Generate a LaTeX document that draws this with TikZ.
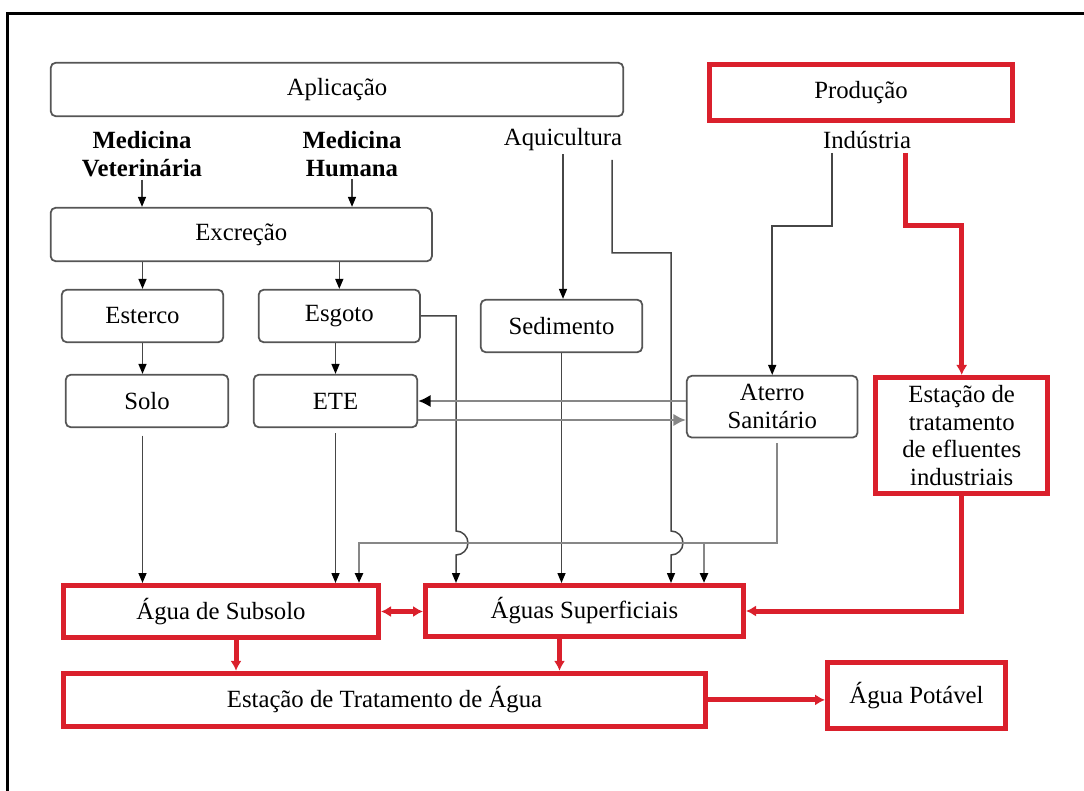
\documentclass[tikz,border=0pt]{standalone}
\usepackage{fontspec}
\setmainfont{Liberation Serif}
\usetikzlibrary{
  positioning,
  calc,
  arrows.meta}

\definecolor{boxcolor}{RGB}{85,85,85}
\definecolor{flowcolor}{RGB}{70,70,70}
\definecolor{pipecolor}{RGB}{135,135,135}
\definecolor{watercolor}{RGB}{218,32,44}
\definecolor{framecolor}{RGB}{0,0,0}

\tikzset{
  %% source : rounded box, a source or route of the residues
  source/.style={
    rectangle,
    rounded corners=2pt,
    draw=boxcolor,
    line width=0.7pt,
    inner sep=2pt,
    align=center
  },
  %% water : red box, a water compartment
  water/.style={
    rectangle,
    draw=watercolor,
    line width=2pt,
    inner sep=2pt,
    align=center
  },
  %% origin : plain label above a route
  origin/.style={
    inner sep=1pt,
    align=center
  },
  %% flow : thin dark arrow
  flow/.style={
    draw=flowcolor,
    line width=0.6pt,
    -{Triangle[length=4pt,width=3.2pt,color=black]}
  },
  %% pipe : grey line (landfill and collector)
  pipe/.style={
    draw=pipecolor,
    line width=1pt
  },
  %% redflow : thick red arrow
  redflow/.style={
    draw=watercolor,
    line width=2pt,
    -{Latex[length=4pt,width=4.5pt]}
  },
  %% frame : border of the figure
  frame/.style={framecolor, line width=0.9pt}
}

\begin{document}
\begin{tikzpicture}
  [x=0.4pt,
  y=-0.4pt,
  align=center]
  \fontsize{9.9}{11}\selectfont
  \useasboundingbox (0,0) rectangle (1084,791);

  %% frame
  \draw [frame] (7.5,791) -- (7.5,13.5) -- (1084,13.5);

  %% sources
  \node (aplic) [source, minimum width=229pt, minimum height=21.4pt]
    at (337,89.5) {Aplicação};
  \node (producao) [water, minimum width=121.2pt, minimum height=22.4pt]
    at (861,92.2) {Produção};

  \node (medvet) [origin, font=\bfseries] at (142,154) {%
    Medicina\\Veterinária};
  \node (medhum) [origin, font=\bfseries] at (352,154) {%
    Medicina\\Humana};
  \node (aquic) [origin] at (563,140) {Aquicultura};
  \node (indust) [origin] at (867,140) {Indústria};

  \node (excr) [source, minimum width=152.5pt, minimum height=21.4pt]
    at (241.3,234.5) {Excreção};

  \node (esterco) [source, minimum width=64.6pt, minimum height=21pt]
    at (142.5,316) {Esterco};
  \node (esgoto) [source, minimum width=64.5pt, minimum height=21pt]
    at (339.3,316) {Esgoto};
  \node (sedim) [source, minimum width=64.6pt, minimum height=21pt]
    at (561.5,326) {Sedimento};

  \node (solo) [source, minimum width=65pt, minimum height=21pt]
    at (147,401) {Solo};
  \node (ete) [source, minimum width=65.4pt, minimum height=21pt]
    at (335.5,401) {ETE};
  \node (aterro) [source, minimum width=68.3pt, minimum height=24.7pt]
    at (772.2,406.7) {Aterro\\Sanitário};
  \node (etei) [water, minimum width=68.7pt, minimum height=46.4pt]
    at (961.7,435.5) {%
    Estação de\\tratamento\\de efluentes\\industriais};

  %% water compartments
  \node (subsolo) [water, minimum width=126pt, minimum height=20.8pt]
    at (221,611.5) {Água de Subsolo};
  \node (superf) [water, minimum width=127.2pt, minimum height=20.4pt]
    at (584.5,611) {Águas Superficiais};
  \node (eta) [water, minimum width=256.8pt, minimum height=21.3pt]
    at (384.5,699.9) {Estação de Tratamento de Água};
  \node (potavel) [water, minimum width=71.2pt, minimum height=26.3pt]
    at (916.5,695.4) {Água Potável};

  %% junctions
  \coordinate (aqbranch) at (612,160);
  \coordinate (indblack) at (832,153);
  \coordinate (indred) at (905,153);
  \coordinate (hopesg) at (456,543);
  \coordinate (hopaq) at (671,543);
  \coordinate (collL) at (359,543);
  \coordinate (collS) at (704,543);
  \coordinate (collR) at (777,543);

  %% Connections
  \draw [flow] (medvet) -- (medvet |- excr.north);
  \draw [flow] (medhum) -- (medhum |- excr.north);
  \draw [flow] (excr.south -| esterco) -- (esterco.north);
  \draw [flow] (excr.south -| esgoto) -- (esgoto.north);
  \draw [flow] (esterco) -- (esterco |- solo.north);
  \draw [flow] (esgoto.south -| ete) -- (ete.north);
  \draw [flow] (aquic) -- (aquic |- sedim.north);

  \draw [flow, shorten <=3pt] (solo.south -| esterco) -- (esterco |- subsolo.north);
  \draw [flow, shorten <=2pt] (ete) -- (ete |- subsolo.north);
  \draw [flow] (sedim) -- (sedim |- superf.north);

  % lines that jump over the collector
  \draw [flow] (esgoto.east) -| ($(hopesg)+(0,-12)$)
    arc [start angle=-90, end angle=90, radius=12]
    -- (hopesg |- superf.north);
  \draw [flow] (aqbranch) |- ($(hopaq)+(0,-290)$) -- ($(hopaq)+(0,-12)$)
    arc [start angle=-90, end angle=90, radius=12]
    -- (hopaq |- superf.north);

  % industry
  \draw [flow] (indblack) -- ++(0,73) -| (aterro.north);
  \draw [redflow] (indred) -- ++(0,73) -| (etei.north);

  % ETE and landfill
  \draw [pipe, -{Latex[length=5pt,width=5pt,color=black]}]
    (ete.east -| aterro.west) -- (ete.east);
  \draw [pipe, -{Latex[length=5pt,width=5pt]}]
    ($(ete.east)+(0,19)$) -- ($(ete.east -| aterro.west)+(0,19)$);

  % collector under the landfill
  \draw [pipe, shorten <=2pt, -{Triangle[length=4pt,width=3.2pt,color=black]}]
    (aterro.south -| collR) |- (collL) -- (collL |- subsolo.north);
  \draw [pipe, -{Triangle[length=4pt,width=3.2pt,color=black]}]
    (collS) -- (collS |- superf.north);

  %% water paths
  \draw [redflow] (etei) |- (superf.east);
  \draw [redflow, {Latex[length=4pt,width=4.5pt]}-{Latex[length=4pt,width=4.5pt]}]
    (subsolo.east) -- (subsolo.east -| superf.west);
  \draw [redflow] ($(subsolo.south)+(15,0)$) -- ($(subsolo.south |- eta.north)+(15,0)$);
  \draw [redflow] ($(superf.south)+(-25,0)$) -- ($(superf.south |- eta.north)+(-25,0)$);
  \draw [redflow] (eta.east) -- (eta.east -| potavel.west);

\end{tikzpicture}
\end{document}
